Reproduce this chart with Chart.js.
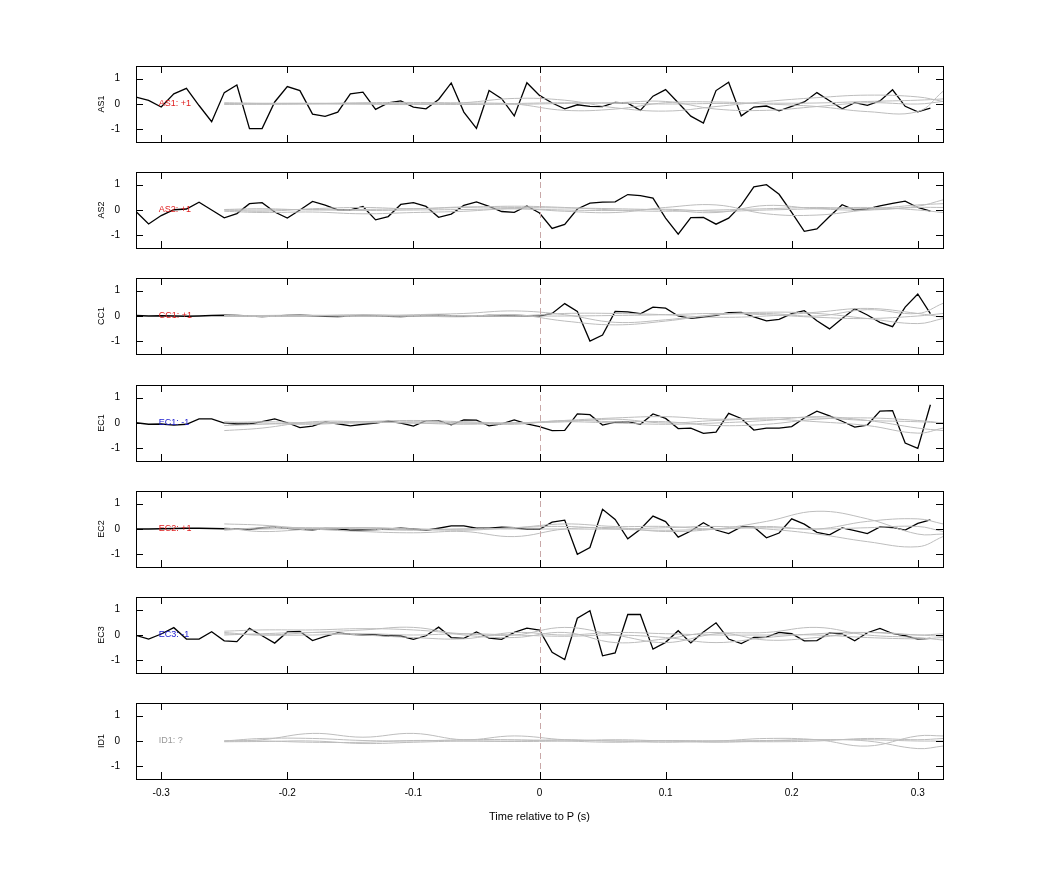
<!DOCTYPE html>
<html><head><meta charset="utf-8">
<script src="https://cdn.jsdelivr.net/npm/chart.js@4"></script>
<style>body{margin:0;background:#fff;width:1042px;height:875px;position:relative;overflow:hidden}canvas{position:absolute;left:0}</style>
</head><body>
<script>
const panelNames = ['AS1','AS2','CC1','EC1','EC2','EC3','ID1'];
const panelTags = ['AS1: +1','AS2: +1','CC1: +1','EC1: -1','EC2: +1','EC3: -1','ID1: ?'];
const tagColors = ['#e02020','#e02020','#e02020','#2020d0','#e02020','#2020d0','#999999'];
const xTicks = [-0.3,-0.2,-0.1,0,0.1,0.2,0.3];
const yTicks = [-1,0,1];
const blackTimes = Array.from({length:64},(_, k)=>Math.round((-0.32+0.01*k)*100)/100);
const greyTimes = [-0.25,-0.22,-0.18,-0.14,-0.10,-0.06,-0.02,0.02,0.06,0.10,0.14,0.18,0.22,0.26,0.30,0.32];

const blackAS1 = [0.27,0.14,-0.12,0.4,0.62,-0.06,-0.7,0.45,0.75,-0.97,-0.97,0.08,0.69,0.53,-0.4,-0.49,-0.32,0.4,0.47,-0.21,0.04,0.12,-0.12,-0.19,0.18,0.83,-0.32,-0.96,0.53,0.21,-0.47,0.84,
 0.34,0.04,-0.19,-0.03,-0.09,-0.1,0.06,0.03,-0.25,0.31,0.57,0.05,-0.48,-0.75,0.53,0.86,-0.47,-0.12,-0.08,-0.27,-0.09,0.08,0.45,0.13,-0.19,0.05,-0.05,0.12,0.56,-0.09,-0.31,-0.16];
const blackAS2 = [-0.06,-0.55,-0.22,0.01,0.04,0.31,0,-0.31,-0.14,0.25,0.29,-0.08,-0.32,0,0.34,0.19,0.01,0,0.14,-0.39,-0.26,0.22,0.29,0.14,-0.29,-0.16,0.18,0.32,0.14,-0.06,-0.09,0.16,
 -0.12,-0.73,-0.57,0.04,0.27,0.31,0.32,0.61,0.57,0.47,-0.32,-0.95,-0.3,-0.29,-0.56,-0.32,0.19,0.91,1.0,0.62,-0.09,-0.84,-0.75,-0.26,0.21,0,0.04,0.16,0.26,0.35,0.1,-0.04];
const blackCC1 = [0.02,0.0,0.01,0,-0.01,0,0.02,0.03,0.02,0,-0.02,0,0.02,0.03,0.01,-0.01,-0.02,0,0.02,0.01,-0.01,-0.02,0,0.02,0.03,0.01,-0.01,0,0.02,0.01,0.02,0.01,
 0.0,0.1,0.49,0.18,-0.99,-0.75,0.18,0.16,0.09,0.35,0.31,0,-0.09,-0.04,0.03,0.13,0.14,-0.03,-0.19,-0.13,0.09,0.21,-0.19,-0.51,-0.1,0.29,0.04,-0.25,-0.42,0.35,0.87,0.09];
const blackEC1 = [0.01,-0.05,-0.04,-0.08,-0.05,0.16,0.16,0,-0.04,-0.04,0.05,0.16,0.01,-0.18,-0.12,0.04,-0.03,-0.11,-0.05,0,0.07,0,-0.12,0.09,0.09,-0.07,0.12,0.11,-0.11,-0.03,0.12,-0.03,
 -0.14,-0.3,-0.29,0.36,0.33,-0.08,0.03,0.05,-0.05,0.36,0.18,-0.22,-0.2,-0.41,-0.36,0.38,0.18,-0.28,-0.2,-0.2,-0.14,0.2,0.47,0.28,0.07,-0.16,-0.08,0.47,0.49,-0.79,-1.0,0.72];
const blackEC2 = [0,0,0.01,0.02,0.03,0.03,0.02,0.01,0.0,-0.02,0.05,0.07,0.03,-0.01,-0.03,0.02,0.01,-0.05,-0.03,-0.02,0.0,0.03,0.0,-0.05,0.03,0.12,0.12,0.03,0.03,0.07,0.05,-0.01,
 -0.01,0.27,0.35,-1.0,-0.73,0.78,0.38,-0.39,-0.01,0.51,0.29,-0.32,-0.08,0.25,-0.04,-0.18,0.08,0.08,-0.35,-0.16,0.4,0.19,-0.13,-0.23,0.04,-0.06,-0.18,0.08,0.06,-0.04,0.22,0.36];
const blackEC3 = [-0.01,-0.16,0.04,0.29,-0.16,-0.16,0.13,-0.23,-0.26,0.26,-0.03,-0.32,0.12,0.14,-0.22,-0.05,0.08,0.03,0.01,0.01,-0.04,-0.04,-0.17,-0.03,0.31,-0.1,-0.13,0.12,-0.12,-0.17,0.1,0.27,
 0.19,-0.68,-0.97,0.66,0.96,-0.82,-0.71,0.81,0.81,-0.56,-0.29,0.17,-0.31,0.12,0.48,-0.16,-0.34,-0.09,-0.08,0.1,0.05,-0.23,-0.22,0.08,0.04,-0.23,0.09,0.26,0.06,-0.03,-0.16,-0.13];
const blackID1 = null;

const greyAS1 = [
 [0.05,0.03,0.02,0.0,-0.02,0.05,0.22,0.15,-0.15,-0.28,-0.1,0.1,0.25,0.35,0.28,0.1],
 [0.02,0.0,0.01,0.05,0.06,0.04,0.0,-0.25,-0.2,0.05,0.08,0.0,-0.1,-0.3,-0.3,0.5],
 [0.0,0.02,0.03,0.02,0.0,-0.02,0.02,0.05,0.03,0.0,0.02,0.03,0.04,0.1,0.15,0.2],
 [-0.02,-0.01,0.0,0.0,0.01,0.0,-0.01,0.02,0.05,0.1,-0.2,-0.25,-0.1,0.05,0.0,0.1]];
const greyAS2 = [
 [0.0,-0.05,0.05,0.1,0.05,0.12,0.1,0.08,0.05,0.0,-0.1,0.18,0.05,0.0,0.15,0.4],
 [-0.05,-0.1,-0.08,-0.15,-0.1,-0.05,0.05,-0.05,-0.1,0.1,0.2,-0.15,-0.2,0.0,0.1,0.1],
 [0.02,0.05,0.0,0.02,0.05,0.1,0.15,0.1,0.0,-0.05,0.0,0.05,0.1,0.05,0.2,0.25],
 [0.0,0.0,0.02,-0.02,0.0,0.02,0.05,0.0,-0.02,0.03,-0.05,0.0,0.05,0.1,0.0,-0.1]];
const greyCC1 = [
 [0.0,0.02,0.03,-0.02,0.05,0.1,0.2,0.05,-0.25,-0.15,0.05,0.1,0.0,0.25,0.1,0.5],
 [0.0,-0.02,0.0,0.03,0.0,-0.03,0.05,-0.2,-0.35,-0.2,0.05,0.15,0.1,-0.1,-0.3,-0.1],
 [0.02,0.0,0.02,0.05,0.02,0.0,0.0,0.1,0.1,0.05,-0.05,0.0,0.15,0.3,0.1,-0.05],
 [0.0,0.0,0.01,0.0,-0.01,0.02,0.0,0.0,0.02,0.05,0.1,0.05,-0.05,-0.1,0.0,0.1]];
const greyEC1 = [
 [-0.3,-0.2,0.05,0.05,0.0,0.0,0.0,0.1,0.2,0.25,0.15,0.2,0.2,0.1,0.05,0.0],
 [-0.1,-0.05,0.0,0.05,0.0,-0.05,0.0,0.05,0.15,0.0,0.1,0.15,0.05,-0.1,-0.4,-0.2],
 [0.05,0.0,-0.05,0.05,0.1,0.05,0.0,0.05,0.0,-0.05,0.0,0.1,0.25,0.1,-0.2,-0.3],
 [0.0,0.05,0.0,0.0,0.05,0.0,-0.05,0.1,0.05,0.05,-0.1,-0.05,0.15,0.2,0.1,0.0]];
const greyEC2 = [
 [0.2,0.15,0.0,-0.1,-0.15,-0.1,-0.3,0.0,0.05,-0.1,0.0,0.3,0.7,0.4,-0.2,-0.2],
 [0.05,-0.1,0.0,0.05,0.0,0.0,0.05,0.2,0.1,0.1,0.0,0.1,0.0,0.3,0.4,0.2],
 [-0.05,0.05,0.05,0.0,-0.05,0.0,0.0,0.0,0.0,0.05,0.1,0.0,-0.2,-0.5,-0.7,-0.3],
 [0.0,0.0,0.03,0.05,0.0,-0.05,0.05,0.1,0.0,-0.05,0.0,0.05,0.0,0.05,0.1,-0.1]];
const greyEC3 = [
 [0.15,0.2,0.2,0.25,0.2,0.05,0.0,0.3,0.0,-0.3,0.05,0.1,0.3,0.0,-0.1,-0.2],
 [0.1,0.0,0.1,0.2,0.3,0.0,-0.1,0.1,-0.3,-0.15,0.1,-0.2,-0.1,0.1,0.0,-0.05],
 [0.0,0.05,0.1,0.0,-0.1,-0.15,0.1,0.0,0.1,0.05,0.0,0.0,0.0,-0.1,-0.15,-0.1],
 [0.05,0.0,0.0,0.05,0.0,0.05,0.0,-0.05,0.0,-0.1,-0.3,-0.1,0.05,0.1,0.0,0.05]];
const greyID1 = [
 [0.0,0.05,0.3,0.15,0.3,0.05,0.2,0.05,0.0,-0.05,0.0,0.02,0.05,0.0,-0.3,-0.2],
 [0.0,0.1,0.1,0.02,0.0,0.05,0.05,0.0,-0.05,0.0,0.0,0.1,0.05,-0.2,0.2,0.2],
 [0.0,0.0,-0.05,-0.05,0.02,0.0,-0.02,0.0,0.05,0.0,-0.05,0.0,0.05,0.05,0.0,0.0],
 [-0.03,-0.02,0.0,-0.1,-0.05,0.0,0.0,0.05,0.0,0.02,0.0,-0.03,0.0,0.1,0.05,0.1]];

const blacks = [blackAS1,blackAS2,blackCC1,blackEC1,blackEC2,blackEC3,blackID1];
const greys = [greyAS1,greyAS2,greyCC1,greyEC1,greyEC2,greyEC3,greyID1];
const panelTops = [66,172,278,385,491,597,703];
const PH = 76, TOPPAD = 14;

const frame = {
  id:'frame',
  afterDraw(c, a, o){
    const {ctx, chartArea:ca, scales:{x,y}} = c;
    ctx.save();
    ctx.strokeStyle = '#c8a8a8'; ctx.lineWidth = 1; ctx.setLineDash([6,4]);
    const x0 = Math.round(x.getPixelForValue(0))+0.5;
    ctx.beginPath(); ctx.moveTo(x0, ca.top); ctx.lineTo(x0, ca.bottom); ctx.stroke();
    ctx.setLineDash([]);
    ctx.strokeStyle = '#000'; ctx.lineWidth = 1;
    ctx.strokeRect(ca.left+0.5, ca.top+0.5, ca.right-ca.left, ca.bottom-ca.top);
    ctx.beginPath();
    xTicks.forEach(v=>{const p=Math.round(x.getPixelForValue(v))+0.5;
      ctx.moveTo(p,ca.top); ctx.lineTo(p,ca.top+7); ctx.moveTo(p,ca.bottom); ctx.lineTo(p,ca.bottom-7);});
    yTicks.forEach(v=>{const p=Math.round(y.getPixelForValue(v))+0.5;
      ctx.moveTo(ca.left,p); ctx.lineTo(ca.left+7,p); ctx.moveTo(ca.right,p); ctx.lineTo(ca.right-7,p);});
    ctx.stroke();
    ctx.font = '9px "Liberation Sans", Arial'; ctx.fillStyle = o.color; ctx.textBaseline='middle';
    ctx.fillText(o.tag, x.getPixelForValue(-0.302), y.getPixelForValue(0));
    ctx.restore();
  }
};

panelNames.forEach((name, i)=>{
  const last = i === panelNames.length-1;
  const H = last ? 139 : 110;
  const cv = document.createElement('canvas');
  cv.style.top = (panelTops[i]-TOPPAD)+'px';
  cv.style.width='1042px'; cv.style.height=H+'px';
  document.body.appendChild(cv);
  const ds = greys[i].map(g=>({data:greyTimes.map((t,k)=>({x:t,y:g[k]})), borderColor:'#bdbdbd', borderWidth:1, pointRadius:0, tension:0.4}));
  if (blacks[i]) ds.push({data:blackTimes.map((t,k)=>({x:t,y:blacks[i][k]})), borderColor:'#000', borderWidth:1.3, pointRadius:0, tension:0});
  new Chart(cv, {
    type:'line',
    data:{datasets:ds},
    plugins:[frame],
    options:{
      responsive:false, animation:false, devicePixelRatio:1,
      layout:{padding:{left:94, right:99, top:TOPPAD, bottom:0}},
      plugins:{legend:{display:false}, tooltip:{enabled:false}, frame:{tag:panelTags[i], color:tagColors[i]}},
      scales:{
        x:{type:'linear', min:-0.32, max:0.32,
          afterBuildTicks:s=>{s.ticks = xTicks.map(v=>({value:v}));},
          afterFit:s=>{s.height = H - TOPPAD - PH;},
          grid:{display:false}, border:{display:false},
          ticks:{display:last, color:'#000', font:{size:10, family:'"Liberation Sans", Arial'}, padding:0, maxRotation:0,
            callback:v=>String(Math.round(v*10)/10)},
          title:{display:last, text:'Time relative to P (s)', color:'#000', font:{size:11, family:'"Liberation Sans", Arial'}, padding:{top:1}}
        },
        y:{min:-1.5, max:1.5,
          afterBuildTicks:s=>{s.ticks = yTicks.map(v=>({value:v}));},
          afterFit:s=>{s.width = 42;},
          grid:{display:false}, border:{display:false},
          ticks:{color:'#000', font:{size:10, family:'"Liberation Sans", Arial'}, padding:8},
          title:{display:true, text:name, color:'#000', font:{size:9, family:'"Liberation Sans", Arial'}, padding:2}
        }
      }
    }
  });
});
</script>
</body></html>
